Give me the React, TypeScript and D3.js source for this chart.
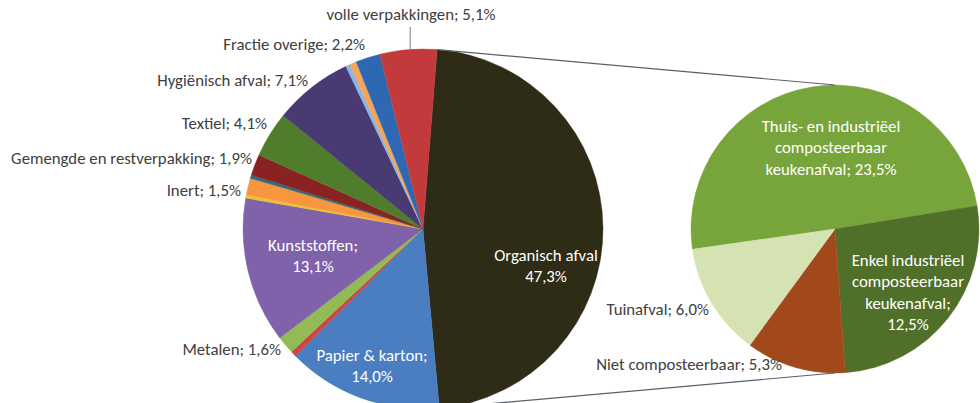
import * as d3 from "d3";

// main pie, clockwise starting with the exploded "organisch" slice
const mainLabels = [
  "Organisch afval", "Papier & karton", "Overig papier", "Metalen", "Kunststoffen",
  "Overig 1", "Inert", "Overig 2", "Gemengde en restverpakking", "Textiel",
  "Hygiënisch afval", "Overig 3", "Overig 4", "Fractie overige", "volle verpakkingen",
];
const mainValues = [47.3, 14.0, 0.5, 1.6, 13.1, 0.3, 1.5, 0.3, 1.9, 4.1, 7.1, 0.4, 0.6, 2.2, 5.1];
const mainColors = [
  "#2e2b16", "#4a7ec0", "#c94744", "#93bb55", "#8062aa",
  "#e9c434", "#f7963f", "#2f6e82", "#8a2222", "#4f7d2c",
  "#4a3a72", "#8db4e2", "#f7a657", "#2f68b2", "#c23a3c",
];
const mainText = [
  "Organisch afval;47,3%", "Papier & karton;;14,0%", "", "Metalen; 1,6%", "Kunststoffen;;13,1%",
  "", "Inert; 1,5%", "", "Gemengde en restverpakking; 1,9%", "Textiel; 4,1%",
  "Hygiënisch afval; 7,1%", "", "", "Fractie overige; 2,2%", "volle verpakkingen; 5,1%",
];

// secondary pie (split of organisch afval)
const subValues = [23.5, 12.5, 5.3, 6.0];
const subColors = ["#78a53b", "#50702a", "#a2491c", "#d5e3b3"];
const subText = [
  ["Thuis- en industriëel", "composteerbaar", "keukenafval; 23,5%"],
  ["Enkel industriëel", "composteerbaar", "keukenafval;", "12,5%"],
  ["Niet composteerbaar; 5,3%"],
  ["Tuinafval; 6,0%"],
];

// label layout: [x, y, anchor, inside]
const mainLabelPos: Record<number, [number, number, string, boolean]> = {
  0: [546, 257, "middle", true],
  1: [372, 357, "middle", true],
  3: [281, 351, "end", false],
  4: [313, 247, "middle", true],
  6: [241, 192, "end", false],
  8: [252, 160, "end", false],
  9: [267, 125, "end", false],
  10: [308, 82, "end", false],
  13: [365, 46, "end", false],
  14: [411, 16, "middle", false],
};
const subLabelPos: [number, number, string, boolean][] = [
  [831, 128, "middle", true],
  [908, 262, "middle", true],
  [782, 366, "end", false],
  [709, 311, "end", false],
];

const W = 980;
const H = 403;
const deg = Math.PI / 180;
const font = "Carlito, Calibri, Lato, sans-serif";

export default function App() {
  const cx = 423, cy = 229, r = 180;
  const sx = 835, sy = 229, sr = 144;

  const mainStart = 4.5 * deg;
  const mainPie = d3.pie<number>().sort(null).value(d => d)
    .startAngle(mainStart).endAngle(mainStart + 2 * Math.PI);
  const mainArcs = mainPie(mainValues);
  const arc = d3.arc<d3.PieArcDatum<number>>().innerRadius(0).outerRadius(r);

  const subStart = -98.1 * deg;
  const subPie = d3.pie<number>().sort(null).value(d => d)
    .startAngle(subStart).endAngle(subStart + 2 * Math.PI);
  const subArcs = subPie(subValues);
  const subArc = d3.arc<d3.PieArcDatum<number>>().innerRadius(0).outerRadius(sr);

  const org = mainArcs[0];
  const p = (a: number, rad: number, x: number, y: number) => [x + rad * Math.sin(a), y - rad * Math.cos(a)];
  const [tx, ty] = p(org.startAngle, r, cx, cy);
  const [bx, by] = p(org.endAngle, r, cx, cy);

  const volle = mainArcs[14];
  const va = (volle.startAngle + volle.endAngle) / 2 + 0.6 * deg;
  const [vx, vy] = p(va, r, cx, cy);

  const renderLabel = (lines: string[], x: number, y: number, anchor: string, inside: boolean, key: string) => (
    <text key={key} x={x} y={y} textAnchor={anchor} dominantBaseline="middle"
      fontFamily={font} fontSize={16.8} fill={inside ? "#ffffff" : "#404040"}>
      {lines.map((l, i) => <tspan key={i} x={x} dy={i === 0 ? 0 : 21.3}>{l}</tspan>)}
    </text>
  );

  return (
    <svg width={W} height={H} viewBox={`0 0 ${W} ${H}`}
      style={{ position: "absolute", left: 0, top: 0, background: "#fff" }}>
      <g transform={`translate(${cx},${cy})`}>
        {mainArcs.map((a, i) => (
          <path key={i} d={arc(a) ?? ""} fill={mainColors[i]} stroke={mainColors[i]} strokeWidth={0.4} />
        ))}
      </g>
      <g transform={`translate(${sx},${sy})`}>
        {subArcs.map((a, i) => (
          <path key={i} d={subArc(a) ?? ""} fill={subColors[i]} stroke={subColors[i]} strokeWidth={0.4} />
        ))}
      </g>
      <line x1={tx} y1={ty} x2={sx} y2={sy - sr} stroke="#5a6068" strokeWidth={1.2} />
      <line x1={bx} y1={by} x2={sx} y2={sy + sr} stroke="#5a6068" strokeWidth={1.2} />
      <line x1={vx} y1={27} x2={vx} y2={vy} stroke="#7f7f7f" strokeWidth={1} />
      {mainText.map((t, i) => {
        const pos = mainLabelPos[i];
        if (!t || !pos) return null;
        const lines = t.split(";").filter(s => s !== "");
        const parts = pos[3]
          ? [lines[0] + (t.includes(";;") ? ";" : ""), lines[1]]
          : [t];
        return renderLabel(parts, pos[0], pos[1], pos[2], pos[3], "m" + i);
      })}
      {subText.map((lines, i) => {
        const pos = subLabelPos[i];
        return renderLabel(lines, pos[0], pos[1], pos[2], pos[3], "s" + i);
      })}
    </svg>
  );
}
